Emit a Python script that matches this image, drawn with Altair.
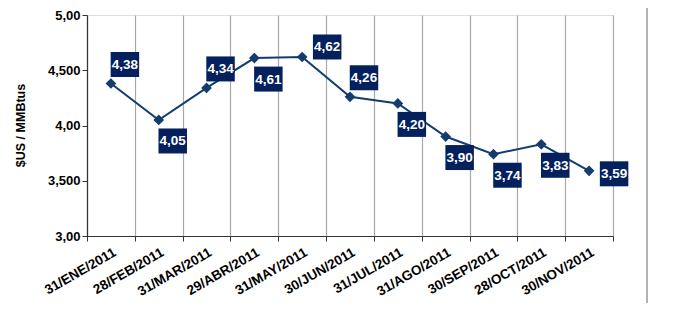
import altair as alt
import pandas as pd

dates = ["31/ENE/2011", "28/FEB/2011", "31/MAR/2011", "29/ABR/2011", "31/MAY/2011",
         "30/JUN/2011", "31/JUL/2011", "31/AGO/2011", "30/SEP/2011", "28/OCT/2011",
         "30/NOV/2011"]
prices = [4.38, 4.05, 4.34, 4.61, 4.62, 4.26, 4.20, 3.90, 3.74, 3.83, 3.59]
price_labels = ["4,38", "4,05", "4,34", "4,61", "4,62", "4,26", "4,20", "3,90", "3,74", "3,83", "3,59"]
placement = ["above", "below", "above", "below", "rightup", "above", "below", "below",
             "below", "below", "right"]
y_ticks = [3.0, 3.5, 4.0, 4.5, 5.0]
y_tick_labels = ["3,00", "3,500", "4,00", "4,500", "5,00"]
y_title = "$US / MMBtus"

df = pd.DataFrame({"date": dates, "price": prices, "label": price_labels, "pos": placement})

FONT = "Liberation Sans"
LINE_COLOR = "#123d6e"
BOX_COLOR = "#04215e"

label_expr = " : ".join(f"datum.value == {v} ? '{l}'" for v, l in zip(y_ticks, y_tick_labels)) + " : ''"

x_enc = alt.X(
    "date:N", sort=dates, title=None, bandPosition=0.5,
    scale=alt.Scale(type="band", paddingInner=0, paddingOuter=0),
    axis=alt.Axis(
        tickBand="extent", grid=True, gridColor="#a8a8a8", gridWidth=1.2,
        domainColor="#333333", domainWidth=1.2, tickColor="#333333", tickSize=5,
        labelAngle=-30, labelAlign="right", labelBaseline="top", labelPadding=4,
        labelFont=FONT, labelFontSize=13.5, labelFontWeight="bold", labelColor="#000000",
    ),
)
y_enc = alt.Y(
    "price:Q",
    scale=alt.Scale(domain=[3, 5], nice=False, zero=False),
    axis=alt.Axis(
        values=y_ticks, labelExpr=label_expr, grid=False,
        domainColor="#333333", domainWidth=1.2, tickColor="#333333", tickSize=5,
        labelFont=FONT, labelFontSize=13, labelFontWeight="bold", labelColor="#000000",
        labelPadding=2, title=y_title, titleFont=FONT, titleFontSize=12.5,
        titleFontWeight="bold", titleColor="#000000", titleX=-67, titleY=110,
        titleAngle=-90, titleAlign="center", titleBaseline="middle",
    ),
)

base = alt.Chart(df)
line = base.mark_line(color=LINE_COLOR, strokeWidth=2).encode(x=x_enc, y=y_enc)
pts = base.mark_point(shape="diamond", filled=True, size=115, color=LINE_COLOR, opacity=1).encode(x=x_enc, y=y_enc)

offsets = {"above": (14, -19), "below": (14, 21), "rightup": (25, -10), "right": (25, 3)}
BOX_SHAPE = "M-1.14,-1H1.14V1H-1.14Z"
layers = [line, pts]
for key, (dx, dy) in offsets.items():
    sub = base.transform_filter(alt.datum.pos == key)
    box = sub.mark_point(shape=BOX_SHAPE, size=625, filled=True, color=BOX_COLOR, opacity=1,
                         strokeWidth=0, xOffset=dx, yOffset=dy).encode(x=x_enc, y=y_enc)
    txt = sub.mark_text(color="white", font=FONT, fontSize=13.5, fontWeight="bold",
                        align="center", baseline="middle", dx=dx, dy=dy + 0.5).encode(
        x=x_enc, y=y_enc, text="label:N")
    layers += [box, txt]

edge = alt.Chart(pd.DataFrame({"a": [0]})).mark_rule(color="#999999", strokeWidth=1.5).encode(
    x=alt.value(560), y=alt.value(-7), y2=alt.value(288))
layers.append(edge)

chart = alt.layer(*layers).properties(
    width=526, height=221,
    autosize=alt.AutoSizeParams(type="none"),
    padding={"left": 79, "top": 7, "right": 64, "bottom": 67},
).configure_view(stroke=None).configure(font=FONT, background="white")

chart.save("out.html", embed_options={"renderer": "svg", "actions": False})
